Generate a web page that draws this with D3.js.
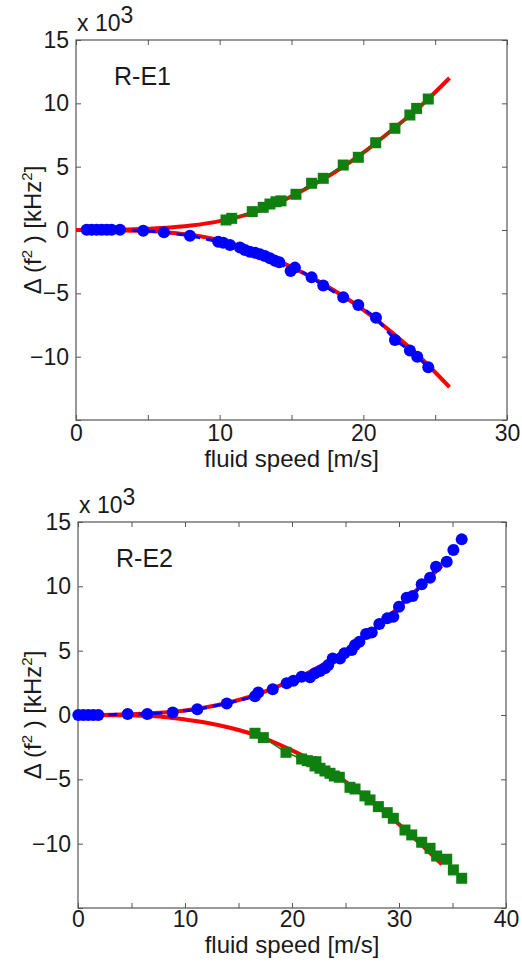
<!DOCTYPE html>
<html>
<head>
<meta charset="utf-8">
<script src="https://cdn.jsdelivr.net/npm/d3@7"></script>
<style>
  body { margin: 0; background: #fff; }
  svg text { font-family: "Liberation Sans", Arial, Helvetica, sans-serif; fill: #1a1a1a; }
</style>
</head>
<body>
<div id="chart"></div>
<script>
// ---- panel 1 (R-E1) ----
var e1BlueSpeed = [0.74, 1.09, 1.44, 1.79, 2.14, 2.48, 3.06, 4.68, 6.12, 7.93, 9.9, 10.25, 10.72, 11.41, 11.76, 12.1, 12.46, 12.8, 13.15, 13.5, 13.85, 14.15, 14.94, 15.24, 16.4, 17.21, 18.6, 19.65, 20.88, 22.2, 23.24, 23.75, 24.52];
var e1BlueShift = [0.02, 0.02, 0.02, 0.02, 0.02, 0.02, 0.02, -0.05, -0.18, -0.45, -0.92, -1.0, -1.18, -1.39, -1.58, -1.71, -1.79, -1.92, -2.05, -2.23, -2.42, -2.55, -3.24, -2.97, -3.74, -4.39, -5.31, -5.92, -6.92, -8.68, -9.52, -10.0, -10.84];
var e1GreenSpeed = [10.44, 10.84, 12.27, 13.03, 13.5, 13.92, 14.27, 15.31, 16.4, 17.21, 18.6, 19.65, 20.86, 22.2, 23.24, 23.71, 24.52];
var e1GreenShift = [0.79, 0.92, 1.45, 1.79, 2.05, 2.23, 2.3, 2.82, 3.69, 4.08, 5.13, 5.74, 6.89, 8.03, 9.08, 9.6, 10.34];
var e1FitSpeed = [0, 2, 4, 6, 8, 10, 12, 14, 16, 18, 20, 22, 24, 26];
var e1FitUpper = [0, 0.01, 0.05, 0.15, 0.35, 0.7, 1.25, 2.1, 3.25, 4.55, 6.1, 7.9, 9.8, 12.0];
var e1FitLower = [0, 0, -0.05, -0.15, -0.4, -0.8, -1.5, -2.4, -3.5, -4.8, -6.3, -8.1, -10.1, -12.4];

// ---- panel 2 (R-E2) ----
var e2BlueSpeed = [0.03, 0.5, 0.96, 1.43, 1.9, 4.64, 6.48, 8.85, 11.15, 13.9, 16.54, 16.85, 18.2, 19.5, 20.13, 20.9, 21.68, 22.15, 22.62, 23.08, 23.39, 23.8, 24.49, 24.89, 25.58, 25.89, 26.3, 26.92, 27.45, 28.16, 28.9, 29.47, 30.0, 30.72, 31.28, 32.12, 32.9, 33.46, 34.46, 35.08, 35.86];
var e2BlueShift = [0, 0, 0, 0, 0, 0.08, 0.08, 0.2, 0.44, 0.9, 1.45, 1.75, 2.0, 2.46, 2.67, 2.98, 2.93, 3.24, 3.42, 3.63, 3.89, 4.4, 4.4, 4.79, 5.05, 5.44, 5.7, 6.29, 6.42, 7.07, 7.51, 7.64, 8.41, 9.11, 9.25, 10.16, 10.67, 11.52, 11.91, 12.82, 13.65];
var e2GreenSpeed = [16.54, 17.32, 19.44, 20.9, 21.43, 21.84, 22.24, 22.15, 22.62, 23.08, 23.55, 23.95, 24.42, 25.42, 25.89, 26.82, 27.29, 28.07, 28.9, 29.47, 30.56, 31.19, 32.12, 32.9, 33.52, 34.46, 35.08, 35.86];
var e2GreenShift = [-1.42, -1.76, -2.9, -3.42, -3.55, -3.63, -3.63, -3.96, -4.14, -4.35, -4.53, -4.74, -4.84, -5.62, -5.75, -6.29, -6.6, -7.12, -7.59, -8.03, -8.94, -9.32, -9.89, -10.36, -10.96, -11.21, -12.04, -12.69];
var e2FitSpeed = [0, 2, 4, 6, 8, 10, 12, 14, 16, 18, 20, 22, 24, 26, 28, 30, 32, 34];
var e2FitUpper = [0, 0, 0.03, 0.1, 0.2, 0.35, 0.6, 0.95, 1.4, 2.0, 2.7, 3.5, 4.45, 5.6, 6.9, 8.4, 10.0, 11.6];
var e2FitLower = [0, 0, -0.02, -0.06, -0.15, -0.35, -0.6, -0.95, -1.4, -2.0, -2.75, -3.6, -4.6, -5.8, -7.1, -8.5, -10.0, -11.6];

var yTicks = [-15, -10, -5, 0, 5, 10, 15];
var panelNames = ["R-E1", "R-E2"];
var xLabel = "fluid speed [m/s]";

var chart = (function(){
	var width = 522, height = 965;

	function zip (xs, ys){
		return xs.map(function(d, i){ return [d, ys[i]]; });
	}

	function fmt (d){
		return d < 0 ? "\u2212" + (-d) : "" + d;
	}

	function drawPanel (svg, p){
		var w = p.right - p.left, h = p.bottom - p.top;
		var x = d3.scaleLinear().domain([0, p.xMax]).range([0, w]);
		var y = d3.scaleLinear().domain([-15, 15]).range([h, 0]);
		var xTicks = d3.range(0, p.xMax + 1, 5);

		var g = svg.append("g").attr("transform", "translate(" + p.left + "," + p.top + ")");

		// axes, ticks pointing inward on all four sides
		var bottom = g.append("g").attr("transform", "translate(0," + h + ")")
			.call(d3.axisBottom(x).tickValues(xTicks).tickSize(-5).tickPadding(p.xPad)
				.tickFormat(function(d){ return d % 10 === 0 ? d : ""; }));
		var top = g.append("g")
			.call(d3.axisTop(x).tickValues(xTicks).tickSize(-5).tickFormat(""));
		var left = g.append("g")
			.call(d3.axisLeft(y).tickValues(yTicks).tickSize(-5).tickPadding(7)
				.tickFormat(function(d){ return d === -15 ? "" : fmt(d); }));
		var right = g.append("g").attr("transform", "translate(" + w + ",0)")
			.call(d3.axisRight(y).tickValues(yTicks).tickSize(-5).tickFormat(""));

		[bottom, top, left, right].forEach(function(a){
			a.select(".domain").remove();
			a.selectAll(".tick line").attr("stroke", "#555");
			a.selectAll("text").attr("font-size", 23).attr("fill", "#1a1a1a");
		});

		g.append("rect").attr("width", w).attr("height", h)
			.attr("fill", "none").attr("stroke", "#555").attr("stroke-width", 1.2);

		var line = d3.line()
			.x(function(d){ return x(d[0]); })
			.y(function(d){ return y(d[1]); });
		var smooth = d3.line().curve(d3.curveMonotoneX)
			.x(function(d){ return x(d[0]); })
			.y(function(d){ return y(d[1]); });

		// fitted curves
		[p.fitUpper, p.fitLower].forEach(function(f){
			g.append("path").datum(zip(p.fitSpeed, f))
				.attr("d", smooth).attr("fill", "none")
				.attr("stroke", "#ff0000").attr("stroke-width", 4);
		});

		// green squares
		var green = zip(p.greenSpeed, p.greenShift);
		g.append("path").datum(green).attr("d", line).attr("fill", "none")
			.attr("stroke", "#0f800f").attr("stroke-width", 1.5);
		g.selectAll(".sq").data(green).enter().append("rect")
			.attr("class", "sq")
			.attr("x", function(d){ return x(d[0]) - 5.5; })
			.attr("y", function(d){ return y(d[1]) - 5.5; })
			.attr("width", 11).attr("height", 11)
			.attr("fill", "#0f800f");

		// blue circles, dashed
		var blue = zip(p.blueSpeed, p.blueShift);
		g.append("path").datum(blue).attr("d", line).attr("fill", "none")
			.attr("stroke", "#0000ff").attr("stroke-width", 3)
			.attr("stroke-dasharray", "9,6");
		g.selectAll(".dot").data(blue).enter().append("circle")
			.attr("class", "dot")
			.attr("cx", function(d){ return x(d[0]); })
			.attr("cy", function(d){ return y(d[1]); })
			.attr("r", 6).attr("fill", "#0000ff");

		// texts
		var mult = svg.append("text").attr("x", p.left + 1).attr("y", p.top - 9)
			.attr("font-size", 23);
		mult.append("tspan").text("x 10");
		mult.append("tspan").attr("dy", -8).text("3");

		svg.append("text").attr("x", p.left + 38).attr("y", p.top + p.nameDy)
			.attr("font-size", 25).text(p.name);

		svg.append("text").attr("x", p.left + w / 2).attr("y", p.bottom + p.labelDy)
			.attr("text-anchor", "middle").attr("font-size", 24).text(xLabel);

		var yl = svg.append("text")
			.attr("transform", "translate(41," + (p.top + h / 2) + ") rotate(-90)")
			.attr("text-anchor", "middle").attr("font-size", 24);
		yl.append("tspan").text("\u0394 (f");
		yl.append("tspan").attr("dy", -9).attr("font-size", 15).text("2");
		yl.append("tspan").attr("dy", 9).text(" ) [kHz");
		yl.append("tspan").attr("dy", -9).attr("font-size", 15).text("2");
		yl.append("tspan").attr("dy", 9).text("]");
	}

	return {
		init : function(){
			var svg = d3.select("#chart").append("svg")
				.attr("width", width).attr("height", height);
			svg.append("rect").attr("width", width).attr("height", height).attr("fill", "#fff");

			drawPanel(svg, {
				left: 76, right: 507, top: 40, bottom: 420, xMax: 30, xPad: 5,
				nameDy: 45, labelDy: 47, name: panelNames[0],
				blueSpeed: e1BlueSpeed, blueShift: e1BlueShift,
				greenSpeed: e1GreenSpeed, greenShift: e1GreenShift,
				fitSpeed: e1FitSpeed, fitUpper: e1FitUpper, fitLower: e1FitLower
			});
			drawPanel(svg, {
				left: 78, right: 506, top: 522, bottom: 908, xMax: 40, xPad: 3,
				nameDy: 45, labelDy: 45, name: panelNames[1],
				blueSpeed: e2BlueSpeed, blueShift: e2BlueShift,
				greenSpeed: e2GreenSpeed, greenShift: e2GreenShift,
				fitSpeed: e2FitSpeed, fitUpper: e2FitUpper, fitLower: e2FitLower
			});
		}
	};
}());

chart.init();
</script>
</body>
</html>
